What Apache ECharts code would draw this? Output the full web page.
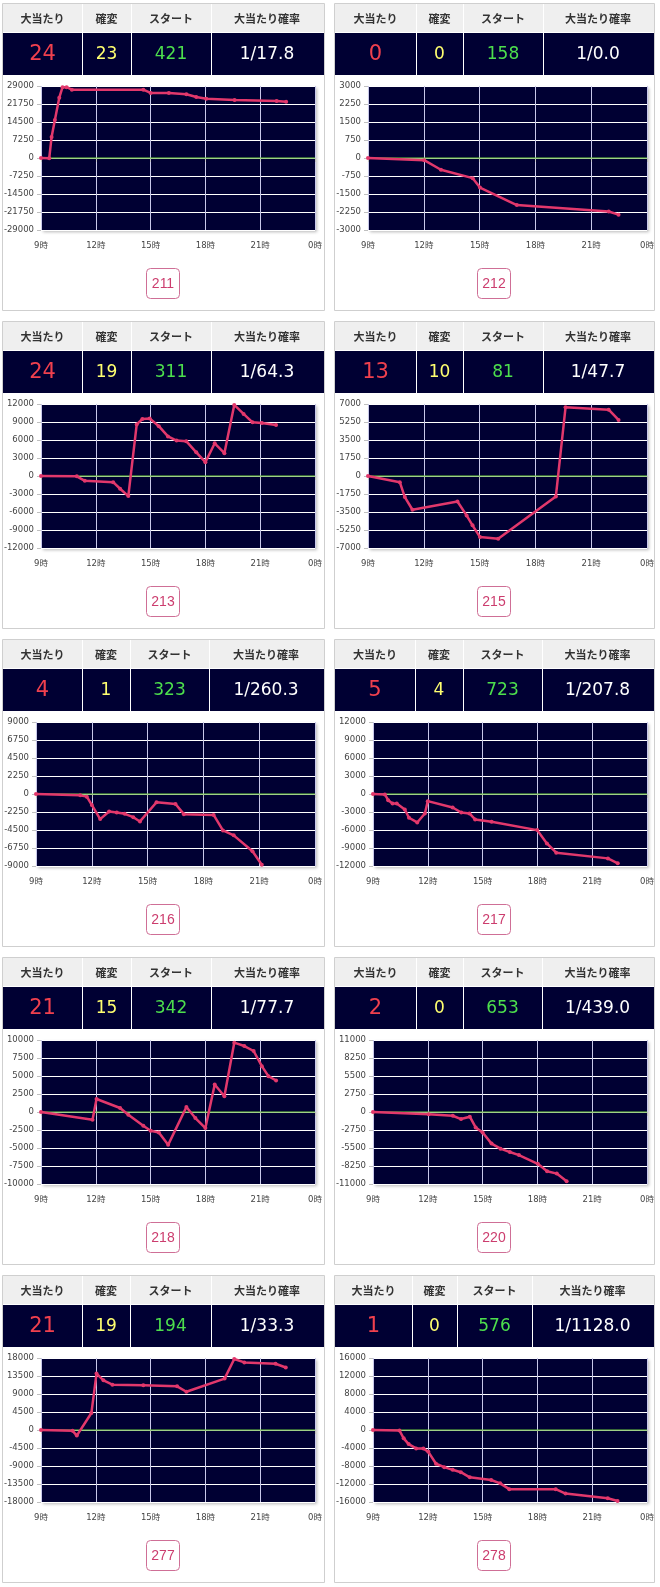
<!DOCTYPE html>
<html>
<head>
<meta charset="utf-8">
<script src="https://cdn.jsdelivr.net/npm/echarts@6/dist/echarts.min.js"></script>
<style>
html,body{margin:0;padding:0;background:#fff;}
#main{width:660px;height:1587px;}
</style>
</head>
<body>
<div id="main"></div>
<script>
// ---------- data ----------
const headers = ['大当たり', '確変', 'スタート', '大当たり確率'];
const machineNos = ['211', '212', '213', '215', '216', '217', '218', '220', '277', '278'];
const bigHits = [24, 0, 24, 13, 4, 5, 21, 2, 21, 1];
const kakuhen = [23, 0, 19, 10, 1, 4, 15, 0, 19, 0];
const starts = [421, 158, 311, 81, 323, 723, 342, 653, 194, 576];
const probs = ['1/17.8', '1/0.0', '1/64.3', '1/47.7', '1/260.3', '1/207.8', '1/77.7', '1/439.0', '1/33.3', '1/1128.0'];
const yMaxes = [29000, 3000, 12000, 7000, 9000, 12000, 10000, 11000, 18000, 16000];
const hourMin = 9, hourMax = 24, hourStep = 3;

const s211 = [[9,0],[9.45,-100],[9.58,8500],[9.76,15300],[10.0,24300],[10.18,28500],[10.4,28500],[10.69,27500],[14.6,27500],[15.0,26200],[16.0,26200],[16.96,25700],[17.5,24600],[18.05,23900],[19.6,23400],[21.9,23000],[22.42,22700]];
const s212 = [[9,0],[12.02,-90],[12.92,-490],[14.63,-840],[15.02,-1230],[17.0,-1960],[21.94,-2230],[22.47,-2360]];
const s213 = [[9,0],[10.96,-50],[11.4,-800],[12.95,-1030],[13.33,-2130],[13.78,-3350],[14.24,8600],[14.55,9500],[14.95,9600],[15.45,8300],[15.95,6600],[16.42,5900],[16.95,5800],[17.5,3950],[18.0,2300],[18.51,5450],[19.04,3800],[19.58,11850],[20.09,10350],[20.58,8950],[21.09,8850],[21.87,8500]];
const s215 = [[9,0],[10.71,-600],[10.98,-2050],[11.39,-3280],[13.81,-2480],[14.3,-3830],[14.62,-4800],[15.02,-5940],[16.0,-6100],[19.1,-1990],[19.62,6680],[21.94,6450],[22.47,5450]];
const s216 = [[9,0],[11.38,-170],[11.73,-330],[12.0,-1370],[12.45,-3140],[12.93,-2190],[13.34,-2320],[13.77,-2480],[14.23,-2900],[14.59,-3430],[15.48,-1030],[16.5,-1240],[16.95,-2520],[18.55,-2610],[19.05,-4550],[19.63,-5170],[20.64,-7150],[21.14,-8850]];
const s217 = [[9,0],[9.65,-80],[9.83,-1030],[10.07,-1580],[10.3,-1580],[10.74,-2580],[10.97,-3960],[11.42,-4740],[11.84,-3240],[12.0,-1190],[13.36,-2250],[13.83,-3080],[14.28,-3240],[14.59,-4240],[15.49,-4630],[17.99,-6020],[18.52,-8240],[19.03,-9790],[21.86,-10730],[22.4,-11560]];
const s218 = [[9,0],[11.82,-1070],[12.04,1810],[13.33,560],[13.78,-370],[14.6,-1910],[15.0,-2600],[15.45,-2840],[15.96,-4560],[16.96,700],[17.45,-840],[18.0,-2230],[18.51,3810],[19.04,2190],[19.58,9630],[20.13,9160],[20.64,8470],[21.09,6370],[21.45,4980],[21.87,4370]];
const s220 = [[9,0],[12.05,-360],[13.37,-570],[13.82,-1080],[14.3,-720],[14.62,-2360],[15.0,-3140],[15.49,-4830],[15.98,-5600],[16.49,-6120],[16.99,-6580],[18.02,-7920],[18.53,-9050],[19.06,-9410],[19.6,-10590]];
const s277 = [[9,0],[10.73,-210],[10.96,-1390],[11.76,4260],[12.04,14100],[12.42,12430],[12.91,11330],[14.6,11170],[16.45,10910],[16.96,9570],[19.05,12850],[19.58,17740],[20.13,16900],[21.84,16560],[22.4,15630]];
const s278 = [[9,0],[10.45,-110],[10.68,-1850],[10.95,-3130],[11.36,-4100],[11.76,-4100],[12.03,-4860],[12.45,-7500],[12.9,-8250],[13.36,-8850],[13.81,-9380],[14.3,-10510],[15.47,-11110],[15.96,-11860],[16.46,-13150],[19.0,-13150],[19.54,-14120],[21.85,-15180],[22.39,-15780]];
const seriesData = [s211, s212, s213, s215, s216, s217, s218, s220, s277, s278];

// ---------- layout (positions / styles) ----------
const colLeft = [2, 334];
const colWidth = [322, 320];
const rowTop = [3, 321, 639, 957, 1275];
const panelH = 307;
const colSeps = [
  [80,129,209],[82,129,209],[80,129,209],[82,129,209],[80,128,207],
  [81,129,208],[80,129,209],[82,129,208],[80,128,209],[78,123,198]
];
const valueColors = ['#f0404e', '#ffff70', '#4ddf4d', '#ffffff'];
const valueSizes = [21, 17, 17, 17];
const NAVY = '#000033';
const LINE = '#e2386c';
const AXIS_FONT = '"DejaVu Sans", "Noto Sans CJK JP"';
const AXIS_SIZE = 8.5;

const measureCtx = document.createElement('canvas').getContext('2d');
measureCtx.font = AXIS_SIZE + 'px "DejaVu Sans"';
function labelWidth(M) {
  return Math.max(measureCtx.measureText('-' + M).width, measureCtx.measureText(String(M)).width);
}

const chart = echarts.init(document.getElementById('main'), null, {renderer: 'canvas'});

const grids = [], xAxes = [], yAxes = [], series = [], graphics = [];

machineNos.forEach((no, i) => {
  const c = i % 2, r = Math.floor(i / 2);
  const L = colLeft[c], W = colWidth[c], T = rowTop[r];
  const seps = colSeps[i];
  const bounds = [1, seps[0], seps[1], seps[2], W - 1];

  graphics.push({type: 'rect', z: -5, shape: {x: L + 0.5, y: T + 0.5, width: W, height: panelH},
    style: {fill: 'none', stroke: '#cfcfcf', lineWidth: 1}});
  graphics.push({type: 'rect', shape: {x: L + 1, y: T + 1, width: W - 1, height: 28}, style: {fill: '#efefef'}});
  graphics.push({type: 'rect', shape: {x: L + 1, y: T + 30, width: W - 1, height: 42}, style: {fill: NAVY}});
  seps.forEach(s => {
    graphics.push({type: 'rect', shape: {x: L + s, y: T + 1, width: 1, height: 71}, style: {fill: '#ffffff'}});
  });
  const vals = [String(bigHits[i]), String(kakuhen[i]), String(starts[i]), probs[i]];
  for (let k = 0; k < 4; k++) {
    const cx = L + (bounds[k] + bounds[k + 1]) / 2;
    graphics.push({type: 'text', x: cx, y: T + 16,
      style: {text: headers[k], fill: '#333', font: 'bold 11px "Noto Sans CJK JP"', align: 'center', verticalAlign: 'middle'}});
    graphics.push({type: 'text', x: cx, y: T + 52,
      style: {text: vals[k], fill: valueColors[k], font: valueSizes[k] + 'px "DejaVu Sans"', align: 'center', verticalAlign: 'middle'}});
  }
  const bx = L + W / 2;
  graphics.push({type: 'rect', shape: {x: bx - 16.5, y: T + 265.5, width: 33, height: 30, r: 4},
    style: {fill: '#fff', stroke: '#cf6f96', lineWidth: 1}});
  graphics.push({type: 'text', x: bx, y: T + 281,
    style: {text: no, fill: '#cc3d6e', font: '14px "Liberation Sans"', align: 'center', verticalAlign: 'middle'}});

  const M = yMaxes[i];
  const plotLeft = Math.round(L + 2 + labelWidth(M) + 7);
  const plotRight = L + 313;
  grids.push({left: plotLeft, top: T + 83, width: plotRight - plotLeft, height: 144,
    show: true, backgroundColor: NAVY, borderWidth: 0,
    shadowColor: 'rgba(0,0,0,0.28)', shadowBlur: 3, shadowOffsetX: 2, shadowOffsetY: 2});
  xAxes.push({type: 'value', gridIndex: i, min: hourMin, max: hourMax, interval: hourStep,
    axisLine: {show: true, lineStyle: {color: '#d0d0d0', width: 1}},
    axisTick: {show: true, length: 4, lineStyle: {color: '#c0c0c0'}},
    axisLabel: {margin: 12, color: '#444', fontSize: AXIS_SIZE, fontFamily: AXIS_FONT,
      formatter: v => (v % 24) + '時'},
    splitLine: {show: true, lineStyle: {color: '#c8c8ea', width: 1}}});
  yAxes.push({type: 'value', gridIndex: i, min: -M, max: M, interval: M / 4,
    axisLine: {show: false},
    axisTick: {show: true, length: 4, lineStyle: {color: '#c0c0c0'}},
    axisLabel: {margin: 7, color: '#444', fontSize: AXIS_SIZE, fontFamily: AXIS_FONT,
      formatter: v => String(v)},
    splitLine: {show: true, lineStyle: {color: '#ffffff', width: 1}}});
  series.push({type: 'line', xAxisIndex: i, yAxisIndex: i, data: [[hourMin, 0], [hourMax, 0]],
    showSymbol: false, silent: true, z: 1, lineStyle: {color: '#6fcf3f', width: 1}, animation: false});
  series.push({type: 'line', xAxisIndex: i, yAxisIndex: i, data: seriesData[i], z: 3,
    symbol: 'circle', symbolSize: 4, showSymbol: true, silent: true,
    itemStyle: {color: LINE}, lineStyle: {color: LINE, width: 2.5}, animation: false});
});

chart.setOption({
  animation: false,
  backgroundColor: '#ffffff',
  grid: grids,
  xAxis: xAxes,
  yAxis: yAxes,
  series: series,
  graphic: {elements: graphics}
});
</script>
</body>
</html>
